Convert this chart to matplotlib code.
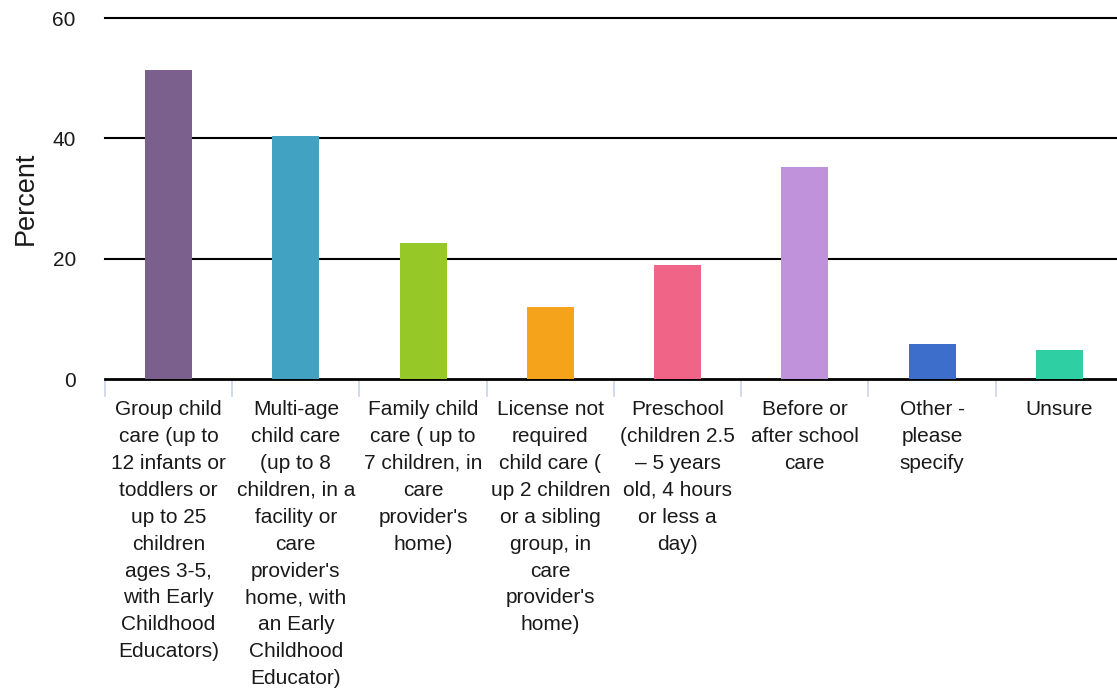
import numpy as np
import matplotlib
matplotlib.use('Agg')
import matplotlib.pyplot as plt

categories = [
    "Group child\ncare (up to\n12 infants or\ntoddlers or\nup to 25\nchildren\nages 3-5,\nwith Early\nChildhood\nEducators)",
    "Multi-age\nchild care\n(up to 8\nchildren, in a\nfacility or\ncare\nprovider's\nhome, with\nan Early\nChildhood\nEducator)",
    "Family child\ncare ( up to\n7 children, in\ncare\nprovider's\nhome)",
    "License not\nrequired\nchild care (\nup 2 children\nor a sibling\ngroup, in\ncare\nprovider's\nhome)",
    "Preschool\n(children 2.5\n\u2013 5 years\nold, 4 hours\nor less a\nday)",
    "Before or\nafter school\ncare",
    "Other -\nplease\nspecify",
    "Unsure",
]
percent = [51.4, 40.4, 22.6, 12.0, 18.9, 35.2, 5.8, 4.8]
colors = ["#7b5f8c", "#41a2c2", "#96c828", "#f5a31a", "#f06487", "#c092db", "#3d6ecc", "#2ecfa3"]
yticks = [0, 20, 40, 60]

plt.rcParams['font.family'] = ['Liberation Sans', 'DejaVu Sans']

fig = plt.figure(figsize=(11.17, 6.92), dpi=100)
ax = fig.add_axes([105/1117, 1 - 379/692, 1018/1117, (379 - 18)/692])

x = np.arange(len(categories))
ax.bar(x, percent, width=0.37, color=colors, zorder=3)

ax.set_xlim(-0.5, len(categories) - 0.5)
ax.set_ylim(0, 60)
ax.set_yticks(yticks)
ax.set_yticklabels([str(v) for v in yticks], fontsize=15, color="#1a1a1a")
ax.tick_params(axis='y', length=0, pad=21)
for v in yticks[1:]:
    ax.axhline(v, color="black", lw=1.5, zorder=1, clip_on=False)

ax.set_xticks(x)
ax.set_xticklabels(categories, fontsize=15, linespacing=1.53, va='top', color="#1a1a1a")
ax.tick_params(axis='x', which='major', length=0, pad=15)
ax.set_xticks(np.arange(-0.5, len(categories) - 0.5, 1), minor=True)
ax.tick_params(axis='x', which='minor', length=13, width=1.2, color="#c8d4e8")

for s in ['top', 'right', 'left']:
    ax.spines[s].set_visible(False)
ax.spines['bottom'].set_linewidth(2)
ax.spines['bottom'].set_color("black")

ax.set_ylabel("Percent", fontsize=19.5, color="#1a1a1a")
ax.yaxis.set_label_coords(-0.065, 0.5)

plt.savefig("out.png", dpi=100)
